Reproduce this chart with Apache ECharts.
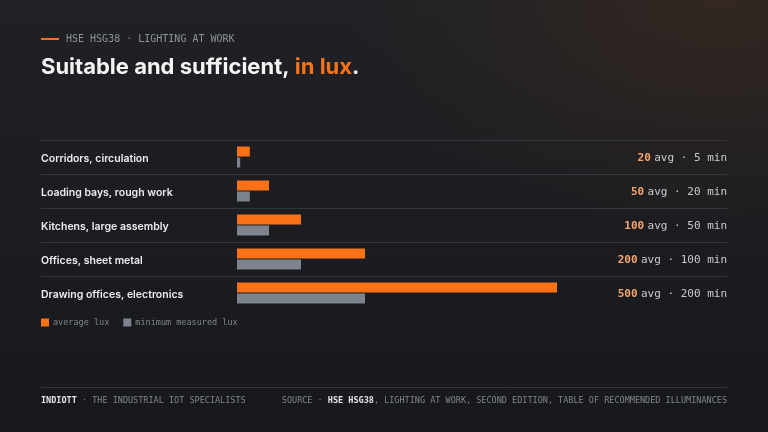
<!DOCTYPE html>
<html>
<head>
<meta charset="utf-8">
<script src="https://cdn.jsdelivr.net/npm/echarts@6/dist/echarts.min.js"></script>
<style>
  html, body { margin: 0; padding: 0; }
  body {
    width: 768px; height: 432px; overflow: hidden;
    background:
      radial-gradient(ellipse 380px 240px at 720px 0px, rgba(70, 45, 30, 0.5), rgba(70, 45, 30, 0) 100%),
      linear-gradient(180deg, #1f2125 0%, #1b1c20 60%, #17181b 100%);
  }
  #chart { width: 768px; height: 432px; }
</style>
</head>
<body>
<div id="chart"></div>
<script>
// ── 数据 ──────────────────────────────
const tasks = [
  "Corridors, circulation",
  "Loading bays, rough work",
  "Kitchens, large assembly",
  "Offices, sheet metal",
  "Drawing offices, electronics",
];
const avgLux = [20, 50, 100, 200, 500];
const minLux = [5, 20, 50, 100, 200];

const ORANGE = "#f97316";
const GREY = "#7e848d";
const MONO = "'DejaVu Sans Mono', 'Liberation Mono', monospace";
const SANS = "Inter, 'Open Sans', sans-serif";

const chart = echarts.init(document.getElementById("chart"), null, { renderer: "canvas" });

chart.setOption({
  backgroundColor: "transparent",
  animation: false,
  title: {
    text: "{w|Suitable and sufficient, }{o|in lux}{w|.}",
    left: 36, top: 51,
    textStyle: {
      rich: {
        w: { color: "#f4f4f5", fontSize: 22, fontWeight: 700, fontFamily: SANS },
        o: { color: ORANGE, fontSize: 22, fontWeight: 700, fontFamily: SANS },
      },
    },
  },
  legend: {
    left: 36, top: 313,
    itemWidth: 8, itemHeight: 8, itemGap: 14,
    icon: "rect",
    textStyle: { color: "#80858c", fontSize: 8.5, fontFamily: MONO, padding: [0, 0, 0, -1] },
    data: ["average lux", "minimum measured lux"],
  },
  grid: { left: 41, right: 41, top: 140, height: 170 },
  xAxis: {
    type: "value", min: -306.25, max: 765.625,
    show: false,
  },
  yAxis: [
    {
      type: "category", data: tasks, inverse: true,
      axisLine: { show: false }, axisTick: { show: false },
      splitLine: { show: false },
      axisLabel: {
        inside: true, margin: 0, align: "left",
        formatter: (v) => `{l|${v}}`,
        rich: {
          l: { color: "#ececee", fontSize: 10.5, fontWeight: 600, fontFamily: SANS, padding: [4, 0, 0, 0] },
        },
      },
    },
    {
      type: "category", data: tasks, inverse: true, position: "right",
      axisLine: { show: false }, axisTick: { show: false }, splitLine: { show: false },
      axisLabel: {
        inside: true, margin: 0, align: "right", padding: [3, 0, 0, 0],
        formatter: (v, i) => `{n|${avgLux[i]}} {t|avg · ${minLux[i]} min}`,
        rich: {
          n: { color: "#f5a56c", fontSize: 11, fontWeight: 700, fontFamily: MONO },
          t: { color: "#c9cbcf", fontSize: 11, fontFamily: MONO },
        },
      },
    },
    {
      // 行分隔线（不含底线）
      type: "value", min: 0, max: tasks.length, interval: 1, inverse: true,
      show: true, position: "left", offset: 0,
      axisLine: { show: false }, axisTick: { show: false }, axisLabel: { show: false },
      splitLine: { show: true, showMaxLine: false, lineStyle: { color: "#34373c", width: 1 } },
    },
  ],
  series: [
    {
      name: "average lux", type: "bar", data: avgLux,
      barWidth: 10, barGap: "10%",
      itemStyle: { color: ORANGE },
    },
    {
      name: "minimum measured lux", type: "bar", data: minLux,
      barWidth: 10,
      itemStyle: { color: GREY },
    },
  ],
  graphic: [
    // 顶部小标签
    { type: "rect", shape: { x: 41, y: 38, width: 18, height: 2 }, style: { fill: ORANGE } },
    {
      type: "text", x: 66, y: 39,
      style: { text: "HSE HSG38 · LIGHTING AT WORK", fill: "#8d9197", fontSize: 10, fontFamily: MONO, verticalAlign: "middle" },
    },
    // 页脚
    { type: "rect", shape: { x: 41, y: 387, width: 686, height: 1 }, style: { fill: "#34373c" } },
    {
      type: "text", x: 41, y: 401,
      style: {
        text: "{b|INDIOTT} · THE INDUSTRIAL IOT SPECIALISTS",
        fill: "#80858c", fontSize: 8.5, fontFamily: MONO, verticalAlign: "middle",
        rich: { b: { fill: "#e4e4e6", fontSize: 8.5, fontFamily: MONO, fontWeight: 700 } },
      },
    },
    {
      type: "text", x: 727, y: 401,
      style: {
        text: "SOURCE · {b|HSE HSG38}, LIGHTING AT WORK, SECOND EDITION, TABLE OF RECOMMENDED ILLUMINANCES",
        fill: "#80858c", fontSize: 8.5, fontFamily: MONO, verticalAlign: "middle", align: "right",
        rich: { b: { fill: "#e4e4e6", fontSize: 8.5, fontFamily: MONO, fontWeight: 700 } },
      },
    },
  ],
});
</script>
</body>
</html>
